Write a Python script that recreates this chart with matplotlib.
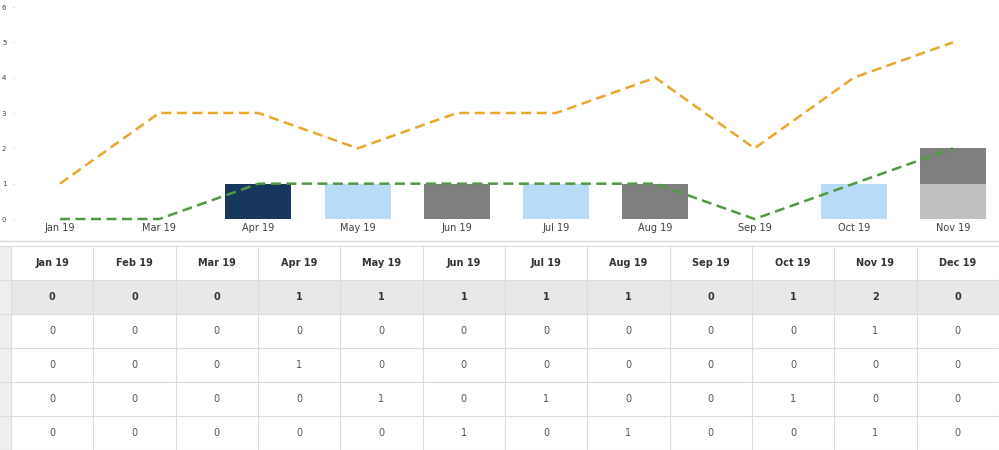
import numpy as np
import matplotlib.pyplot as plt
from matplotlib.patches import Rectangle

# Datos del grafico (meses mostrados en el eje)
chart_months = ['Jan 19', 'Mar 19', 'Apr 19', 'May 19', 'Jun 19',
                'Jul 19', 'Aug 19', 'Sep 19', 'Oct 19', 'Nov 19']
orange_line = [1, 3, 3, 2, 3, 3, 4, 2, 4, 5]
green_line = [0, 0, 1, 1, 1, 1, 1, 0, 1, 2]

# Datos de la tabla (todos los meses)
table_months = ['Jan 19', 'Feb 19', 'Mar 19', 'Apr 19', 'May 19', 'Jun 19',
                'Jul 19', 'Aug 19', 'Sep 19', 'Oct 19', 'Nov 19', 'Dec 19']
row_total = [0, 0, 0, 1, 1, 1, 1, 1, 0, 1, 2, 0]
row_a = [0, 0, 0, 0, 0, 0, 0, 0, 0, 0, 1, 0]
row_b = [0, 0, 0, 1, 0, 0, 0, 0, 0, 0, 0, 0]
row_c = [0, 0, 0, 0, 1, 0, 1, 0, 0, 1, 0, 0]
row_d = [0, 0, 0, 0, 0, 1, 0, 1, 0, 0, 1, 0]

bar_colors = ['#c0c0c0', '#17375e', '#b8dcf7', '#7f7f7f']
W, H = 999, 450

fig = plt.figure(figsize=(W / 100, H / 100), dpi=100)

# --- grafico superior ---
x0, x1 = 14, 999
yb, yt = 219, 7
ax = fig.add_axes([x0 / W, 1 - yb / H, (x1 - x0) / W, (yb - yt) / H])
step = (953 - 60) / 9
ax.set_xlim(-(60 - x0) / step, 9 + (x1 - 953) / step)
ax.set_ylim(0, 6)

# valores de las barras para los meses del grafico
idx = [table_months.index(m) for m in chart_months]
xs = np.arange(len(chart_months))
bottom = np.zeros(len(chart_months))
for row, col in zip([row_a, row_b, row_c, row_d], bar_colors):
    vals = np.array([row[i] for i in idx], dtype=float)
    ax.bar(xs, vals, width=0.665, bottom=bottom, color=col, zorder=2)
    bottom += vals

ax.plot(xs, orange_line, color='#e9a82c', lw=1.8, dashes=(4, 2.2), zorder=3, clip_on=False)
ax.plot(xs, green_line, color='#4f9a40', lw=1.8, dashes=(4, 2.2), zorder=3, clip_on=False)

ax.set_xticks(xs)
ax.set_xticklabels(chart_months, fontsize=7, color='#404040')
ax.set_yticks(range(7))
ax.set_yticklabels([str(i) for i in range(7)], fontsize=5, color='#404040')
ax.tick_params(axis='x', length=0, pad=3)
ax.tick_params(axis='y', length=1.5, width=0.5, color='#d0d0d0', pad=4)
for s in ax.spines.values():
    s.set_visible(False)

# --- tabla inferior ---
tx = fig.add_axes([0, 0, 1, 1])
tx.set_xlim(0, W)
tx.set_ylim(H, 0)
tx.axis('off')

tx.plot([0, W], [241, 241], color='#d9d9d9', lw=1)
top = 246
rh = 34
stub = 11
cw = (W - stub) / 12
rows = [row_total, row_a, row_b, row_c, row_d]

tx.add_patch(Rectangle((0, top), stub, H - top, color='#efefef', lw=0))
tx.add_patch(Rectangle((stub, top + rh), W - stub, rh, color='#e8e8e8', lw=0))

for r in range(1, 7):
    y = top + r * rh
    tx.plot([0, W], [y, y], color='#dcdcdc', lw=0.8)
tx.plot([0, W], [top, top], color='#dcdcdc', lw=0.8)
for c in range(13):
    x = stub + c * cw
    tx.plot([x, x], [top, H], color='#dcdcdc', lw=0.8)

for c, m in enumerate(table_months):
    cx = stub + (c + 0.5) * cw
    tx.text(cx, top + rh / 2, m, ha='center', va='center', fontsize=7,
            fontweight='bold', color='#333333')
    for r, row in enumerate(rows):
        cy = top + (r + 1.5) * rh
        tx.text(cx, cy, str(row[c]), ha='center', va='center', fontsize=7,
                fontweight='bold' if r == 0 else 'normal',
                color='#333333' if r == 0 else '#555555')

plt.savefig('out.png', dpi=100)
